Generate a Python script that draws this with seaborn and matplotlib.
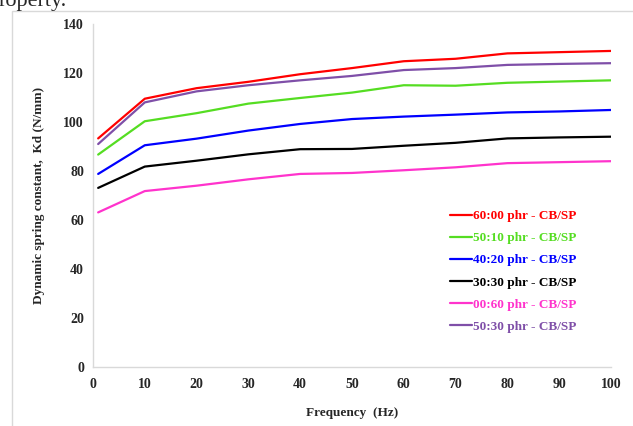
import numpy as np
import pandas as pd
import seaborn as sns
import matplotlib.pyplot as plt
from matplotlib.patches import Rectangle

freq = [1, 10, 20, 30, 40, 50, 60, 70, 80, 90, 100]
kd_60_00 = [93.3, 109.5, 113.8, 116.4, 119.5, 122.0, 124.8, 125.8, 128.0, 128.5, 129.0]
kd_50_10 = [86.7, 100.3, 103.6, 107.5, 109.8, 112.0, 115.0, 114.8, 116.0, 116.5, 117.0]
kd_40_20 = [78.8, 90.5, 93.2, 96.5, 99.2, 101.2, 102.2, 103.0, 103.9, 104.3, 104.9]
kd_30_30 = [73.1, 81.8, 84.2, 86.8, 88.9, 89.0, 90.3, 91.5, 93.3, 93.7, 94.0]
kd_00_60 = [63.1, 71.8, 74.0, 76.6, 78.8, 79.2, 80.3, 81.5, 83.2, 83.6, 84.0]
kd_50_30 = [91.0, 108.0, 112.5, 115.0, 117.0, 118.8, 121.2, 122.0, 123.3, 123.7, 124.0]

labels = ["60:00 phr - CB/SP", "50:10 phr - CB/SP", "40:20 phr - CB/SP",
          "30:30 phr - CB/SP", "00:60 phr - CB/SP", "50:30 phr - CB/SP"]
colors = ["#ff0000", "#55dd22", "#0000ff", "#000000", "#ff33cc", "#7f4fa8"]
series = [kd_60_00, kd_50_10, kd_40_20, kd_30_30, kd_00_60, kd_50_30]

df = pd.concat([pd.DataFrame({"Frequency": freq, "Kd": s, "mix": lab})
                for s, lab in zip(series, labels)], ignore_index=True)

sns.set_style("white")
plt.rcParams['font.family'] = ['Liberation Serif', 'DejaVu Serif']

fig = plt.figure(figsize=(6.33, 4.26), dpi=100)
ax = fig.add_axes([0.1469, 0.1385, 0.8183, 0.8052])

sns.lineplot(data=df, x="Frequency", y="Kd", hue="mix", hue_order=labels,
             palette=dict(zip(labels, colors)), linewidth=1.6, ax=ax)

ax.set_xlim(0, 100)
ax.set_ylim(0, 140)
ax.set_xticks(np.arange(0, 101, 10))
ax.set_yticks(np.arange(0, 141, 20))
for t in ax.get_xticklabels() + ax.get_yticklabels():
    t.set_fontweight("bold")
ax.tick_params(axis='x', length=0, pad=8, labelsize=10)
ax.tick_params(axis='y', length=0, pad=6.5, labelsize=10)

for side in ["top", "right"]:
    ax.spines[side].set_visible(False)
for side in ["left", "bottom"]:
    ax.spines[side].set_color("#d9d9d9")
    ax.spines[side].set_linewidth(1.0)

ax.set_xlabel("Frequency  (Hz)", fontweight="bold", fontsize=9.5)
ax.xaxis.set_label_coords(0.5, -0.118)
ax.set_ylabel("Dynamic spring constant,  Kd (N/mm)", fontweight="bold", fontsize=9.5)
ax.yaxis.set_label_coords(-0.093, 0.5)

leg = ax.legend(loc="upper left", bbox_to_anchor=(0.69, 0.458), frameon=False,
                fontsize=9.5, handlelength=1.65, handletextpad=0.1, labelspacing=0.75,
                borderpad=0, borderaxespad=0)
for txt, c in zip(leg.get_texts(), colors):
    txt.set_color(c)
    txt.set_fontweight("bold")

# outer chart border (light grey box, open at the bottom)
fig.patches.append(Rectangle((12 / 633, -0.05), 1.2, 1 - 11 / 426 + 0.05,
                             transform=fig.transFigure, fill=False,
                             edgecolor="#d9d9d9", linewidth=1.0))

# fragment of the surrounding document text
fig.text(-0.002, 1 - 6 / 426, "roperty.", fontsize=16, va="baseline", ha="left")

plt.savefig("out.png", dpi=100)
plt.close()
